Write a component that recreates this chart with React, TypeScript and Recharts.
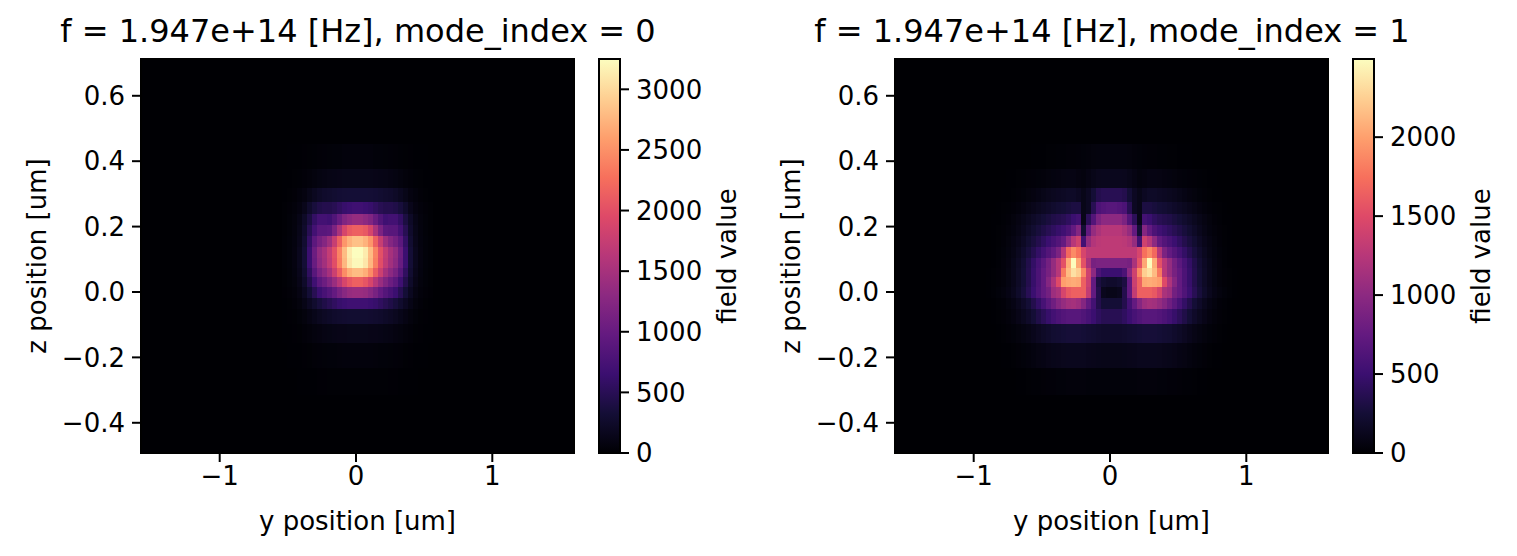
import React from "react";
import { ReferenceArea, Scatter, ScatterChart, XAxis, YAxis } from "recharts";

// plot extents (um)
const Y_MIN = -1.5774;
const Y_MAX = 1.5994;
const N_COLS = 86; // uniform columns across the y range
const Z_MIN = -0.4924;
const Z_MAX = 0.7125;

// row boundaries of the (non-uniform) z mesh inside the lit region, top -> bottom
const zEdges = [
  0.453, 0.376, 0.318, 0.275, 0.239, 0.205, 0.171, 0.138, 0.104, 0.073, 0.046,
  0.015, -0.018, -0.052, -0.098, -0.156, -0.233, -0.315,
];

const yTicks = [-1, 0, 1];
const zTicks = [-0.4, -0.2, 0, 0.2, 0.4, 0.6];

// mode_index = 0 : columns 28..57, one row per z band
const mode0FirstCol = 28;
const mode0Max = 3250;
const mode0 = [
  [0,5,5,5,10,15,20,25,30,35,40,40,50,50,50,50,50,50,40,40,35,30,25,20,15,10,5,5,5,0],
  [5,5,15,20,30,45,65,85,100,110,115,125,130,130,130,130,130,130,125,115,110,100,85,65,45,30,20,15,5,5],
  [5,15,25,50,80,130,180,230,260,275,295,310,320,325,325,325,325,320,310,295,275,260,230,180,130,80,50,25,15,5],
  [15,25,45,80,145,260,360,425,455,455,490,555,620,650,685,685,650,620,555,490,455,455,425,360,260,145,80,45,25,15],
  [15,35,60,115,230,390,585,715,715,685,815,1010,1205,1300,1365,1365,1300,1205,1010,815,685,715,715,585,390,230,115,60,35,15],
  [15,35,65,130,260,490,715,880,880,910,1170,1530,1885,2080,2145,2145,2080,1885,1530,1170,910,880,880,715,490,260,130,65,35,15],
  [20,40,70,145,295,585,910,1105,1235,1430,1755,2145,2535,2730,2830,2830,2730,2535,2145,1755,1430,1235,1105,910,585,295,145,70,40,20],
  [20,40,80,165,325,650,1040,1335,1495,1725,2015,2405,2795,3120,3250,3250,3120,2795,2405,2015,1725,1495,1335,1040,650,325,165,80,40,20],
  [20,40,80,165,325,650,1010,1300,1465,1690,1985,2375,2765,3090,3215,3215,3090,2765,2375,1985,1690,1465,1300,1010,650,325,165,80,40,20],
  [15,35,70,145,295,555,880,1140,1300,1495,1790,2115,2470,2700,2795,2795,2700,2470,2115,1790,1495,1300,1140,880,555,295,145,70,35,15],
  [15,35,60,125,245,455,685,910,1040,1205,1400,1625,1885,2050,2145,2145,2050,1885,1625,1400,1205,1040,910,685,455,245,125,60,35,15],
  [10,25,45,90,180,325,490,650,750,845,975,1140,1270,1365,1400,1400,1365,1270,1140,975,845,750,650,490,325,180,90,45,25,10],
  [5,15,30,60,115,195,275,360,425,490,555,620,650,685,685,685,685,650,620,555,490,425,360,275,195,115,60,30,15,5],
  [5,10,15,35,60,100,135,175,205,235,260,275,285,295,295,295,295,285,275,260,235,205,175,135,100,60,35,15,10,5],
  [5,5,10,15,30,45,65,80,95,105,115,125,125,130,130,130,130,125,125,115,105,95,80,65,45,30,15,10,5,5],
  [0,5,5,5,10,15,25,30,35,40,40,45,50,50,50,50,50,50,45,40,40,35,30,25,15,10,5,5,5,0],
  [0,0,0,5,5,5,5,10,10,15,15,15,15,15,15,15,15,15,15,15,15,10,10,5,5,5,5,0,0,0],
];

// mode_index = 1 : columns 18..67
const mode1FirstCol = 18;
const mode1Max = 2495;
const mode1 = [
  [0,0,0,0,0,0,0,0,0,5,5,5,10,10,15,15,20,20,25,30,35,45,50,50,50,50,50,50,45,35,30,25,20,20,15,15,10,10,5,5,5,0,0,0,0,0,0,0,0,0],
  [0,0,0,0,5,5,10,15,20,25,30,35,45,55,60,70,75,75,60,50,75,100,120,125,125,125,125,120,100,75,50,60,75,75,70,60,55,45,35,30,25,20,15,10,5,5,0,0,0,0],
  [0,0,0,5,5,10,20,30,45,60,80,100,120,135,150,160,175,175,150,100,150,250,350,375,375,375,375,350,250,150,100,150,175,175,160,150,135,120,100,80,60,45,30,20,10,5,5,0,0,0],
  [0,0,5,10,15,25,40,60,85,110,135,160,185,210,235,250,275,300,300,100,150,375,600,645,670,670,645,600,375,150,100,300,300,275,250,235,210,185,160,135,110,85,60,40,25,15,10,5,0,0],
  [0,5,5,15,25,45,70,100,135,175,210,250,285,325,350,375,425,500,550,100,400,645,895,995,995,995,995,895,645,400,100,550,500,425,375,350,325,285,250,210,175,135,100,70,45,25,15,5,5,0],
  [0,5,10,20,35,55,85,125,175,225,275,325,375,425,475,525,600,745,945,250,745,1045,1170,1245,1245,1245,1245,1170,1045,745,250,945,745,600,525,475,425,375,325,275,225,175,125,85,55,35,20,10,5,0],
  [0,5,10,25,45,75,110,160,225,285,350,425,500,575,645,745,995,1245,1395,550,1045,1220,1270,1295,1295,1295,1295,1270,1220,1045,550,1395,1245,995,745,645,575,500,425,350,285,225,160,110,75,45,25,10,5,0],
  [0,5,15,30,55,85,135,200,275,360,450,550,645,745,895,1245,1695,1890,1745,1445,1295,1295,1295,1295,1295,1295,1295,1295,1295,1295,1445,1745,1890,1695,1245,895,745,645,550,450,360,275,200,135,85,55,30,15,5,0],
  [0,5,15,35,60,105,160,235,335,450,575,695,845,1045,1245,1545,2065,2490,2040,1545,1170,870,895,895,895,895,895,895,870,1170,1545,2040,2490,2065,1545,1245,1045,845,695,575,450,335,235,160,105,60,35,15,5,0],
  [5,10,20,35,65,110,170,250,350,475,600,745,870,1045,1245,1795,2140,2340,2240,1870,1395,995,600,500,500,500,500,600,995,1395,1870,2240,2340,2140,1795,1245,1045,870,745,600,475,350,250,170,110,65,35,20,10,5],
  [5,10,20,35,65,110,170,250,350,475,600,745,945,1195,1495,1990,2040,2065,2040,1645,1370,745,300,225,200,200,225,300,745,1370,1645,2040,2065,2040,1990,1495,1195,945,745,600,475,350,250,170,110,65,35,20,10,5],
  [5,15,30,50,80,125,190,275,380,500,620,745,845,1095,1170,1445,1595,1645,1645,1645,1320,745,350,125,100,100,125,350,745,1320,1645,1645,1645,1595,1445,1170,1095,845,745,620,500,380,275,190,125,80,50,30,15,5],
  [0,5,15,25,50,80,125,185,250,350,450,575,695,820,945,1045,1120,1145,1095,945,745,550,350,250,250,250,250,350,550,745,945,1095,1145,1120,1045,945,820,695,575,450,350,250,185,125,80,50,25,15,5,0],
  [0,5,10,20,35,60,95,135,185,250,325,400,475,550,600,645,670,670,670,625,575,500,425,375,375,375,375,425,500,575,625,670,670,670,645,600,550,475,400,325,250,185,135,95,60,35,20,10,5,0],
  [0,0,5,10,20,30,45,65,85,115,145,175,200,225,235,250,260,260,260,250,235,225,210,200,200,200,200,210,225,235,250,260,260,260,250,235,225,200,175,145,115,85,65,45,30,20,10,5,0,0],
  [0,0,0,5,5,10,20,30,40,55,70,80,95,105,110,120,125,125,125,125,115,110,105,100,100,100,100,105,110,115,125,125,125,125,120,110,105,95,80,70,55,40,30,20,10,5,5,0,0,0],
  [0,0,0,0,0,0,5,5,10,15,15,20,25,25,30,30,35,35,35,35,30,30,30,30,30,30,30,30,30,30,35,35,35,35,30,30,25,25,20,15,15,10,5,5,0,0,0,0,0,0],
];

const mode0CbTicks = [0, 500, 1000, 1500, 2000, 2500, 3000];
const mode1CbTicks = [0, 500, 1000, 1500, 2000];

const MAGMA = [
  "#000004", "#140e36", "#3b0f70", "#641a80", "#8c2981", "#b73779",
  "#de4968", "#f7705c", "#fe9f6d", "#fecf92", "#fcfdbf",
];
const FONT = "'DejaVu Sans', sans-serif";

const hex = (h: string) => [1, 3, 5].map((i) => parseInt(h.slice(i, i + 2), 16));
function magma(t: number) {
  const u = Math.max(0, Math.min(1, t)) * (MAGMA.length - 1);
  const i = Math.min(MAGMA.length - 2, Math.floor(u));
  const f = u - i;
  const a = hex(MAGMA[i]);
  const b = hex(MAGMA[i + 1]);
  const c = a.map((v, k) => Math.round(v + (b[k] - v) * f));
  return `rgb(${c[0]},${c[1]},${c[2]})`;
}

const colEdge = (k: number) => Y_MIN + ((Y_MAX - Y_MIN) * k) / N_COLS;
const minus = (s: string) => s.replace("-", "\u2212");
const fmtY = (v: number) => minus(String(v));
const fmtZ = (v: number) => minus(v.toFixed(1));

const tickStyle = { fill: "#000", fontSize: 26, fontFamily: FONT };
const tickLine = { stroke: "#000", strokeWidth: 2 };

const corners = [
  { y: Y_MIN, z: Z_MIN },
  { y: Y_MAX, z: Z_MAX },
];

function Heatmap({ rows, firstCol, vmax }: { rows: number[][]; firstCol: number; vmax: number }) {
  const cells: React.ReactNode[] = [];
  rows.forEach((row, r) =>
    row.forEach((v, i) => {
      cells.push(
        <ReferenceArea
          key={`${r}-${i}`}
          x1={colEdge(firstCol + i)}
          x2={colEdge(firstCol + i + 1)}
          y1={zEdges[r + 1]}
          y2={zEdges[r]}
          fill={magma(v / vmax)}
          fillOpacity={1}
          shapeRendering="crispEdges"
          ifOverflow="visible"
        />
      );
    })
  );

  return (
    <ScatterChart width={600} height={556} margin={{ top: 59, right: 26, bottom: 0, left: 0 }}>
      <XAxis
        type="number"
        dataKey="y"
        domain={[Y_MIN, Y_MAX]}
        allowDataOverflow
        ticks={yTicks}
        interval={0}
        tickFormatter={fmtY}
        height={103}
        tickSize={9}
        tickMargin={5}
        axisLine={false}
        tickLine={tickLine}
        tick={tickStyle}
      />
      <YAxis
        type="number"
        dataKey="z"
        domain={[Z_MIN, Z_MAX]}
        allowDataOverflow
        ticks={zTicks}
        interval={0}
        tickFormatter={fmtZ}
        width={141}
        tickSize={9}
        tickMargin={7}
        axisLine={false}
        tickLine={tickLine}
        tick={tickStyle}
      />
      <ReferenceArea x1={Y_MIN} x2={Y_MAX} y1={Z_MIN} y2={Z_MAX} fill={MAGMA[0]} fillOpacity={1} />
      {cells}
      <ReferenceArea
        x1={Y_MIN}
        x2={Y_MAX}
        y1={Z_MIN}
        y2={Z_MAX}
        fill="none"
        stroke="#000"
        strokeWidth={2}
        ifOverflow="visible"
      />
      <Scatter data={corners} isAnimationActive={false} shape={() => <g />} />
    </ScatterChart>
  );
}

function Colorbar({ vmax, ticks, gradId }: { vmax: number; ticks: number[]; gradId: string }) {
  return (
    <ScatterChart width={132} height={556} margin={{ top: 59, right: 0, bottom: 103, left: 2 }}>
      <defs>
        <linearGradient id={gradId} x1="0" y1="1" x2="0" y2="0">
          {MAGMA.map((c, i) => (
            <stop key={c} offset={i / (MAGMA.length - 1)} stopColor={c} />
          ))}
        </linearGradient>
      </defs>
      <XAxis type="number" dataKey="x" domain={[0, 1]} hide />
      <YAxis
        type="number"
        dataKey="v"
        orientation="right"
        domain={[0, vmax]}
        allowDataOverflow
        ticks={ticks}
        interval={0}
        width={109}
        tickSize={9}
        tickMargin={7}
        axisLine={false}
        tickLine={tickLine}
        tick={{ ...tickStyle, textAnchor: "start" }}
      />
      <ReferenceArea
        x1={0}
        x2={1}
        y1={0}
        y2={vmax}
        fill={`url(#${gradId})`}
        fillOpacity={1}
        stroke="#000"
        strokeWidth={2}
      />
      <Scatter
        data={[{ x: 0, v: 0 }, { x: 1, v: vmax }]}
        isAnimationActive={false}
        shape={() => <g />}
      />
    </ScatterChart>
  );
}

const abs = (left: number, top: number): React.CSSProperties => ({ position: "absolute", left, top });

function TextAt({ x, y, size, rotate, children }: { x: number; y: number; size: number; rotate?: boolean; children: string }) {
  return (
    <div
      style={{
        position: "absolute",
        left: x,
        top: y,
        transform: `translate(-50%, -50%)${rotate ? " rotate(-90deg)" : ""}`,
        fontFamily: FONT,
        fontSize: size,
        lineHeight: 1,
        whiteSpace: "nowrap",
        color: "#000",
      }}
    >
      {children}
    </div>
  );
}

export default function App() {
  const shift = 754; // horizontal offset of the second panel
  return (
    <div style={{ position: "absolute", left: 0, top: 0, width: 1517, height: 556, background: "#fff", overflow: "hidden" }}>
      <div style={abs(0, 0)}>
        <Heatmap rows={mode0} firstCol={mode0FirstCol} vmax={mode0Max} />
      </div>
      <div style={abs(597, 0)}>
        <Colorbar vmax={mode0Max} ticks={mode0CbTicks} gradId="cb0" />
      </div>
      <div style={abs(shift, 0)}>
        <Heatmap rows={mode1} firstCol={mode1FirstCol} vmax={mode1Max} />
      </div>
      <div style={abs(597 + shift, 0)}>
        <Colorbar vmax={mode1Max} ticks={mode1CbTicks} gradId="cb1" />
      </div>

      <TextAt x={358} y={31} size={32}>f = 1.947e+14 [Hz], mode_index = 0</TextAt>
      <TextAt x={358 + shift} y={31} size={32}>f = 1.947e+14 [Hz], mode_index = 1</TextAt>
      <TextAt x={357.5} y={521} size={26}>y position [um]</TextAt>
      <TextAt x={357.5 + shift} y={521} size={26}>y position [um]</TextAt>
      <TextAt x={37} y={256} size={26} rotate>z position [um]</TextAt>
      <TextAt x={37 + shift} y={256} size={26} rotate>z position [um]</TextAt>
      <TextAt x={727} y={256} size={26} rotate>field value</TextAt>
      <TextAt x={727 + shift} y={256} size={26} rotate>field value</TextAt>
    </div>
  );
}
